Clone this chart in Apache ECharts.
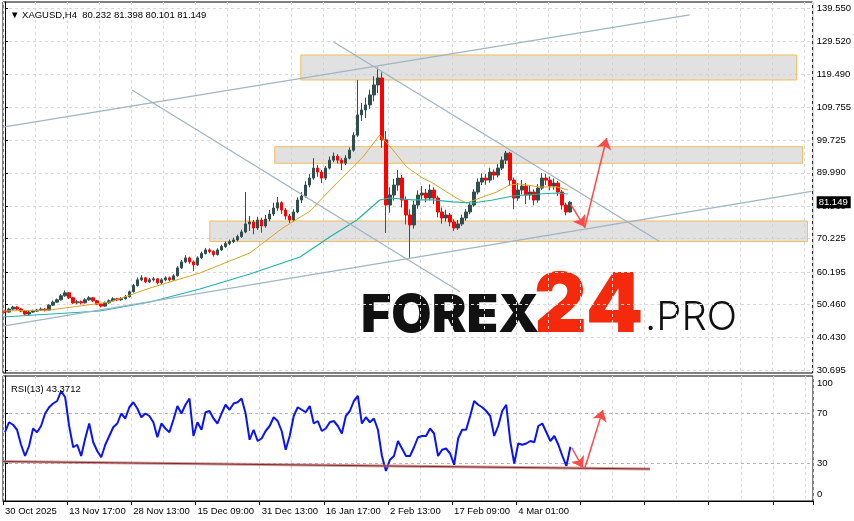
<!DOCTYPE html>
<html><head><meta charset="utf-8">
<script src="https://cdn.jsdelivr.net/npm/echarts@6/dist/echarts.min.js"></script>
<style>html,body{margin:0;padding:0;background:#fff}#c{width:854px;height:521px}</style>
</head><body><div id="c"></div>
<script>
// ---- data ----
const symbolHeader = '\u25BC XAGUSD,H4  80.232 81.398 80.101 81.149';
const rsiHeader = 'RSI(13) 43.3712';
const tickLabels = ['30 Oct 2025','13 Nov 17:00','28 Nov 13:00','15 Dec 09:00','31 Dec 13:00','16 Jan 17:00','2 Feb 13:00','17 Feb 09:00','4 Mar 01:00'];
const barCount = 202;
const priceTicks = [139.550,129.520,119.490,109.755,99.725,89.990,79.960,70.225,60.195,50.460,40.430,30.695];
const lastPrice = 81.149;
const rsiLevels = [30, 70];
const rsiLabelTicks = [5.6, 30, 70, 94.4];
const rsiLabelText = ['0', '30', '70', '100'];
const firstOpen = 48.3;
const closes = [48.1,49.0,49.6,49.0,48.4,47.5,48.1,48.4,48.7,49.0,
48.7,50.2,51.1,51.8,53.0,53.9,52.4,50.9,51.2,50.9,
51.8,52.4,51.5,50.5,49.9,50.9,51.5,52.1,51.8,52.1,
52.7,54.2,56.1,57.8,58.4,57.2,57.8,58.1,56.9,57.8,
58.4,57.8,59.0,61.4,63.2,64.4,63.2,62.3,64.4,65.7,
66.8,66.3,65.4,66.8,67.8,68.7,69.3,69.8,70.8,72.2,
74.6,75.2,73.4,75.8,74.0,76.1,77.6,79.4,81.0,78.8,
77.0,75.8,78.2,81.8,83.0,86.3,88.4,91.4,90.2,88.4,
91.4,93.8,95.0,93.8,92.9,94.4,96.8,101.3,107.4,108.9,
110.4,113.4,116.4,118.5,99.9,80.3,83.3,86.3,88.4,81.8,
77.3,74.3,80.3,83.3,83.9,82.4,84.8,82.4,78.2,76.4,
77.3,75.2,73.4,74.6,76.4,78.2,80.3,84.2,87.2,88.4,
87.8,90.2,89.3,91.4,93.8,95.9,87.8,82.4,84.8,86.0,
83.3,84.2,81.8,85.4,88.4,87.8,86.0,86.9,84.2,80.3,
78.2,81.149];
const highs = [48.8,49.4,50.0,49.9,49.3,48.6,48.5,48.8,49.1,49.5,
49.3,50.5,51.6,52.2,53.5,54.6,54.1,52.6,51.8,51.6,
52.3,52.9,52.6,51.7,50.8,51.3,51.9,52.6,52.4,52.6,
53.3,54.6,56.6,58.5,59.2,58.7,58.4,58.7,58.3,58.3,
58.9,58.8,59.5,61.9,63.8,65.2,64.8,63.6,64.9,66.3,
67.4,67.3,66.7,67.3,68.4,69.3,69.9,70.5,71.4,72.9,
84.2,77.0,75.8,76.8,76.5,77.3,78.8,81.0,82.7,81.4,
79.4,77.6,79.0,82.6,84.2,87.4,89.6,94.4,92.3,90.8,
92.0,94.9,96.1,95.6,94.4,95.3,97.6,102.2,117.9,111.0,
112.6,115.0,119.0,121.6,120.2,102.5,85.6,88.2,90.8,89.3,
82.9,79.0,81.6,84.7,86.0,85.1,86.5,85.6,83.1,79.5,
78.9,77.9,76.0,75.8,77.4,79.1,81.2,85.0,88.3,89.8,
89.6,91.5,91.0,92.6,94.9,96.6,96.3,88.6,86.9,87.8,
86.9,86.2,85.0,86.6,89.9,89.6,88.9,88.3,87.5,84.8,
81.0,81.398];
const lows = [47.8,47.9,48.8,48.7,48.1,47.1,47.2,47.9,48.2,48.5,
48.3,48.6,50.0,50.9,51.6,52.7,52.0,50.5,50.5,50.4,
50.7,51.5,51.1,50.2,49.5,49.7,50.6,51.3,51.4,51.5,
51.9,52.5,54.0,55.8,57.4,56.8,56.9,57.3,56.4,56.6,
57.4,57.3,57.5,58.8,61.1,62.8,62.6,60.5,62.0,64.1,
65.4,65.8,64.8,65.1,66.5,67.4,68.2,68.9,69.4,70.4,
71.8,72.5,71.5,72.8,72.0,73.5,75.4,77.0,78.6,77.6,
75.9,74.9,75.3,77.8,80.9,82.5,85.6,87.9,88.8,86.9,
87.8,91.0,93.2,92.8,90.8,92.3,94.0,96.3,100.8,105.6,
106.5,109.2,111.5,114.0,97.5,71.9,78.0,81.7,84.6,79.5,
74.5,64.4,73.2,79.2,82.0,81.1,81.7,80.6,76.6,74.7,
75.3,73.9,72.5,72.8,74.0,75.6,77.5,79.8,83.5,86.3,
86.4,87.0,87.9,88.6,90.8,92.6,86.2,79.0,81.6,83.5,
80.6,81.9,80.2,81.0,84.8,86.3,84.7,84.9,83.0,78.9,
77.2,78.0];
const rsi = [55,63,61,57,45,36,44,58,55,60,
70,75,78,80,88,83,60,43,45,36,
50,62,47,40,35,45,52,59,62,70,
66,75,79,74,67,70,68,63,51,62,
58,55,65,76,70,77,82,52,63,57,
71,72,66,62,70,77,73,78,79,82,
70,49,57,48,50,56,60,67,64,56,
41,52,68,75,73,71,76,62,64,56,
58,63,64,60,54,68,72,80,84,62,
67,63,66,57,36,24,33,36,48,42,
36,36,43,51,52,52,58,54,36,41,
42,38,29,50,57,57,68,80,77,75,
72,68,52,60,72,77,48,30,46,45,
46,48,47,60,62,55,48,52,45,36,
28,43.3712];
// moving averages, [bar index, price]
const maFast = [[-0.5,48.44],[11.2,48.74],[26.2,51.14],[36.2,55.35],[48.6,59.86],[56.1,63.47],[61.1,65.88],[69.3,73.40],[76.1,78.51],[82.8,86.93],[89.3,94.75],[93.5,101.37],[94.8,99.56],[96.8,96.85],[100.2,91.74],[104.2,88.43],[106.7,86.93],[110.2,84.22],[113.5,81.82],[115.2,80.91],[118.5,82.42],[122.7,84.22],[125.9,86.33],[128.4,86.63],[133.4,85.73],[137.7,85.73],[140.4,84.82]];
const maSlow = [[-0.5,46.63],[23.7,48.44],[36.2,51.14],[48.6,55.05],[61.1,59.56],[73.6,64.68],[81.0,70.69],[87.8,75.80],[93.5,81.82],[96.0,82.42],[101.7,81.82],[106.7,81.82],[111.7,81.22],[116.7,80.91],[121.7,81.82],[126.7,83.02],[133.4,83.62],[137.7,83.92],[140.4,83.62]];
// annotations in data space: [bar index, price]
const trendLines = [
  [[-0.5,103.71],[170.8,137.45]],
  [[-0.5,43.87],[201.2,84.40]],
  [[31.7,114.89],[113.5,54.24]],
  [[82.0,129.33],[163.3,69.34]]
];
const zones = [
  [[73.8,125.42],[197.5,117.90]],
  [[67.3,97.84],[199.0,92.85]],
  [[51.1,75.50],[200.2,69.33]]
];
const priceArrows = [
  [[141.1,80.6],[144.6,73.7]],
  [[144.6,73.4],[150.1,100.46]]
];
const rsiTrend = [[-0.5,31.6],[160.8,25.6]];
const rsiArrows = [
  [[141.4,42.4],[144.1,26.4]],
  [[144.6,26.4],[149.1,72.8]]
];

// ---- build ----
const categories = Array.from({length: barCount}, (_, i) => (i % 16 === 0 && tickLabels[i / 16]) ? tickLabels[i / 16] : '');
const candles = closes.map((c, i) => [i === 0 ? firstOpen : closes[i - 1], c, lows[i], highs[i]]);
const FONT = 'Liberation Sans';
const gridDash = {color: '#d9d9d9', type: [3, 3], width: 1};
const noLbl = {show: false};
const arrowLine = {color: '#FF4A4A', width: 1.5, type: 'solid'};

const chart = echarts.init(document.getElementById('c'), null, {renderer: 'canvas'});
chart.setOption({
  animation: false,
  backgroundColor: '#fff',
  title: [
    {text: symbolHeader, left: 5, top: 5, textStyle: {fontFamily: FONT, fontSize: 9.5, fontWeight: 'normal', color: '#000'}},
    {text: rsiHeader, left: 6, top: 379, textStyle: {fontFamily: FONT, fontSize: 9.5, fontWeight: 'normal', color: '#000'}}
  ],
  grid: [
    {left: 3, right: 41, top: 2, height: 371, show: true, borderColor: '#000', borderWidth: 1, backgroundColor: 'transparent'},
    {left: 3, right: 41, top: 376, height: 125, show: true, borderColor: '#000', borderWidth: 1, backgroundColor: 'transparent'}
  ],
  xAxis: [
    {type: 'category', gridIndex: 0, data: categories, boundaryGap: true, axisLine: {show: false}, axisTick: {show: false}, axisLabel: noLbl, splitLine: {show: true, interval: 7, lineStyle: gridDash}},
    {type: 'value', gridIndex: 0, min: -0.5, max: barCount - 0.5, show: false, splitLine: {show: false}},
    {type: 'category', gridIndex: 1, data: categories, boundaryGap: true,
      axisLine: {show: true, lineStyle: {color: '#000'}},
      axisTick: {show: true, interval: 15, length: 4, lineStyle: {color: '#000'}},
      axisLabel: {interval: 15, align: 'left', margin: 5, fontFamily: FONT, fontSize: 9.5, color: '#000'},
      splitLine: {show: true, interval: 7, lineStyle: gridDash}},
    {type: 'value', gridIndex: 1, min: -0.5, max: barCount - 0.5, show: false, splitLine: {show: false}}
  ],
  yAxis: [
    {type: 'value', gridIndex: 0, position: 'right', min: 29.79, max: 141.35, scale: true,
      axisLine: {show: true, lineStyle: {color: '#000'}},
      axisTick: {show: true, customValues: priceTicks, length: 3, lineStyle: {color: '#000'}},
      axisLabel: {customValues: priceTicks.concat([lastPrice]), margin: 4, fontFamily: FONT, fontSize: 9.5, color: '#000',
        formatter: v => Math.abs(v - lastPrice) < 1e-6 ? '{cur|' + lastPrice.toFixed(3) + '}' : v.toFixed(3),
        rich: {cur: {backgroundColor: '#000', color: '#fff', fontFamily: FONT, fontSize: 9.5, padding: [1, 3, 1, 2]}}},
      splitLine: {show: true, lineStyle: gridDash}},
    {type: 'value', gridIndex: 1, position: 'right', min: 0, max: 100,
      axisLine: {show: true, lineStyle: {color: '#000'}},
      axisTick: {show: true, customValues: rsiLevels, length: 3, lineStyle: {color: '#000'}},
      axisLabel: {customValues: rsiLabelTicks, margin: 4, fontFamily: FONT, fontSize: 9.5, color: '#000',
        formatter: v => rsiLabelText[rsiLabelTicks.indexOf(v)]},
      splitLine: {show: true, lineStyle: {color: '#b5b5b5', type: [3, 3], width: 1}}}
  ],
  graphic: [
    {type: 'text', left: 361, top: 290, z: 0, style: {text: 'FOREX', font: '900 52px Inter', fill: '#111'}},
    {type: 'text', left: 534, top: 266, z: 0, style: {text: '24', font: '900 82px Inter', fill: '#F52A0C'}},
    {type: 'text', left: 645, top: 298, z: 0, style: {text: '.PRO', font: '300 40px Inter', fill: '#111'}}
  ],
  series: [
    {type: 'candlestick', xAxisIndex: 0, yAxisIndex: 0, data: candles, barWidth: 3, z: 2,
      itemStyle: {color: '#2F4F4F', color0: '#FF0000', borderColor: '#2F4F4F', borderColor0: '#FF0000', borderWidth: 1}},
    {type: 'line', xAxisIndex: 1, yAxisIndex: 0, data: maFast, showSymbol: false, z: 3, silent: true,
      lineStyle: {color: '#DAA520', width: 1}},
    {type: 'line', xAxisIndex: 1, yAxisIndex: 0, data: maSlow, showSymbol: false, z: 3, silent: true,
      lineStyle: {color: '#20B2AA', width: 1.2}},
    {type: 'line', xAxisIndex: 1, yAxisIndex: 0, data: [], z: 4, silent: true,
      markArea: {silent: true, itemStyle: {color: 'rgba(205,205,205,0.6)', borderColor: '#F2BD5E', borderWidth: 1},
        data: zones.map(z => [{coord: z[0]}, {coord: z[1]}])}},
    {type: 'line', xAxisIndex: 1, yAxisIndex: 0, data: [], z: 5, silent: true,
      markLine: {silent: true, symbol: ['none', 'none'], label: {show: false}, animation: false,
        lineStyle: {color: '#9FB5C3', width: 1.3, type: 'solid'},
        data: trendLines.map(l => [{coord: l[0]}, {coord: l[1]}])}},
    {type: 'line', xAxisIndex: 1, yAxisIndex: 0, data: [], z: 6, silent: true,
      markLine: {silent: true, symbol: ['none', 'arrow'], symbolSize: 11, label: {show: false},
        itemStyle: {color: '#FF4A4A'}, lineStyle: arrowLine,
        data: priceArrows.map(l => [{coord: l[0]}, {coord: l[1]}])}},
    {type: 'line', xAxisIndex: 2, yAxisIndex: 1, data: rsi, showSymbol: false, z: 3, silent: true,
      lineStyle: {color: '#0A14F0', width: 2}},
    {type: 'line', xAxisIndex: 3, yAxisIndex: 1, data: [], z: 2, silent: true,
      markLine: {silent: true, symbol: ['none', 'none'], label: {show: false},
        data: [
          [{coord: rsiTrend[0], lineStyle: {color: 'rgba(190,130,130,0.75)', width: 3, type: 'solid'}}, {coord: rsiTrend[1]}],
          [{coord: rsiTrend[0], lineStyle: {color: '#8B2525', width: 1, type: 'solid'}}, {coord: rsiTrend[1]}]
        ]}},
    {type: 'line', xAxisIndex: 3, yAxisIndex: 1, data: [], z: 6, silent: true,
      markLine: {silent: true, symbol: ['none', 'arrow'], symbolSize: 11, label: {show: false},
        itemStyle: {color: '#FF4A4A'}, lineStyle: arrowLine,
        data: rsiArrows.map(l => [{coord: l[0]}, {coord: l[1]}])}}
  ]
});
</script>
</body></html>
